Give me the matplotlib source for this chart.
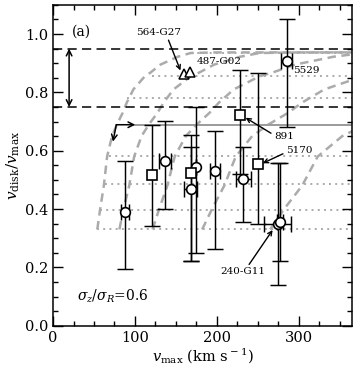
import matplotlib.pyplot as plt
from matplotlib.ticker import MultipleLocator

plt.rcParams['font.family'] = 'DejaVu Serif'
plt.rcParams['mathtext.fontset'] = 'dejavuserif'

# dashed grey model curves
curve_a_x = [54, 57.5, 62, 66, 72, 78, 85, 90, 98, 112, 119, 131, 152, 168, 200, 260, 365]
curve_a_y = [0.33, 0.40, 0.48, 0.58, 0.65, 0.69, 0.73, 0.765, 0.81, 0.855, 0.868, 0.895, 0.922, 0.935, 0.937, 0.937, 0.937]
curve_b_x = [81, 86, 93, 99, 108, 117, 127.5, 135, 147, 168, 178.5, 196.5, 228, 252, 300, 390]
curve_b_y = [0.33, 0.40, 0.48, 0.58, 0.65, 0.69, 0.73, 0.765, 0.81, 0.855, 0.868, 0.895, 0.922, 0.935, 0.937, 0.937]
curve_c_x = [121.5, 129.5, 139.5, 148.5, 162, 175.5, 191, 202.5, 220.5, 252, 268, 295, 342, 378]
curve_c_y = [0.33, 0.40, 0.48, 0.58, 0.65, 0.69, 0.73, 0.765, 0.81, 0.855, 0.868, 0.895, 0.922, 0.935]
curve_d_x = [182, 194, 209, 223, 243, 263, 287, 304, 331, 378]
curve_d_y = [0.33, 0.40, 0.48, 0.58, 0.65, 0.69, 0.73, 0.765, 0.81, 0.855]
curve_e_x = [265, 282, 304, 323, 353, 382]
curve_e_y = [0.33, 0.40, 0.48, 0.58, 0.65, 0.69]

# dotted grey levels and where they start
dot_levels = [0.331, 0.398, 0.485, 0.582, 0.78, 0.857, 0.935]
dot_start = [53.5, 57.6, 63.7, 67.8, 90, 121, 168]

# galaxies: circles
circ_v = [88, 136.4, 167.8, 175, 197.5, 232.3, 285, 274, 277.2]
circ_f = [0.389, 0.566, 0.468, 0.543, 0.532, 0.503, 0.906, 0.348, 0.357]
circ_lo = [0.193, 0.399, 0.222, 0.25, 0.263, 0.355, 0.681, 0.14, 0.222]
circ_hi = [0.563, 0.702, 0.654, 0.751, 0.668, 0.612, 1.051, 0.557, 0.559]
circ_verr = [5, 7.5, 8, 0, 6, 9, 7, 17, 4]

# galaxies: squares
sq_v = [120.8, 168.6, 227.8, 250.7]
sq_f = [0.517, 0.523, 0.723, 0.555]
sq_lo = [0.342, 0.222, 0.52, 0.348]
sq_hi = [0.689, 0.614, 0.877, 0.866]

# triangles (564-G27, 487-G02)
tri_v = [159.6, 166.6]
tri_f = [0.862, 0.869]

fig = plt.figure(figsize=(3.56, 3.75), dpi=100)
ax = fig.add_axes([0.149, 0.1315, 0.84, 0.8555])

grey = '#ababab'
for cx, cy in [(curve_a_x, curve_a_y), (curve_b_x, curve_b_y), (curve_c_x, curve_c_y),
               (curve_d_x, curve_d_y), (curve_e_x, curve_e_y)]:
    ax.plot(cx, cy, color=grey, lw=1.8, dashes=(3.4, 2.2), zorder=1)

for lev, x0 in zip(dot_levels, dot_start):
    ax.plot([x0, 370], [lev, lev], color=grey, lw=1.4, ls=(0, (1, 2.2)), zorder=1)

ax.plot([100.4, 370], [0.689, 0.689], color='#9a9a9a', lw=1.4, zorder=1)

for lev in [0.95, 0.75]:
    ax.axhline(lev, color='black', lw=1.1, dashes=(6, 3.5), zorder=2)

ax.annotate('', xy=(19.6, 0.95), xytext=(19.6, 0.75),
            arrowprops=dict(arrowstyle='<->', lw=1.1, color='black', shrinkA=0, shrinkB=0))
ax.annotate('', xy=(100.4, 0.689), xytext=(77.2, 0.689),
            arrowprops=dict(arrowstyle='->', lw=1.1, color='black', shrinkA=0, shrinkB=0))
ax.annotate('', xy=(73.1, 0.631), xytext=(77.2, 0.689),
            arrowprops=dict(arrowstyle='->', lw=1.1, color='black', shrinkA=0, shrinkB=0))

ebar = dict(fmt='none', ecolor='black', elinewidth=1.05, capsize=6, capthick=1.05, zorder=3)
ax.errorbar(circ_v, circ_f, yerr=[[f - lo for f, lo in zip(circ_f, circ_lo)],
                                  [hi - f for f, hi in zip(circ_f, circ_hi)]],
            xerr=circ_verr, **ebar)
ax.errorbar(sq_v, sq_f, yerr=[[f - lo for f, lo in zip(sq_f, sq_lo)],
                              [hi - f for f, hi in zip(sq_f, sq_hi)]], **ebar)
ax.plot(circ_v, circ_f, 'o', ms=7, mfc='white', mec='black', mew=1.2, zorder=4)
ax.plot(sq_v, sq_f, 's', ms=6.5, mfc='white', mec='black', mew=1.2, zorder=4)
ax.plot(tri_v, tri_f, '^', ms=7, mfc='white', mec='black', mew=1.1, zorder=4)

arr = dict(arrowstyle='->', lw=1.0, color='black', shrinkA=0, shrinkB=0)
ax.annotate('564-G27', xy=(155.5, 0.875), xytext=(128.6, 1.004), fontsize=7.5,
            ha='center', va='center', arrowprops=dict(arr, relpos=(0.7, 0.0)))
ax.text(175, 0.906, '487-G02', fontsize=7.5, ha='left', va='center')
ax.text(293, 0.875, '5529', fontsize=7.5, ha='left', va='center')
ax.annotate('891', xy=(235, 0.713), xytext=(269.4, 0.648), fontsize=7.5,
            ha='left', va='center', arrowprops=dict(arr, relpos=(0.0, 0.7)))
ax.annotate('5170', xy=(256, 0.557), xytext=(284, 0.600), fontsize=7.5,
            ha='left', va='center', arrowprops=dict(arr, relpos=(0.0, 0.3)))
ax.annotate('240-G11', xy=(268, 0.328), xytext=(231.5, 0.185), fontsize=7.5,
            ha='center', va='center', arrowprops=dict(arr, relpos=(0.6, 1.0)))

ax.text(35.1, 1.009, '(a)', fontsize=10, ha='center', va='center')
ax.text(29.4, 0.0995, r'$\sigma_z/\sigma_R$=0.6', fontsize=10, ha='left', va='center')

ax.set_xlim(0, 365)
ax.set_ylim(0, 1.1)
ax.xaxis.set_major_locator(MultipleLocator(100))
ax.xaxis.set_minor_locator(MultipleLocator(25))
ax.yaxis.set_major_locator(MultipleLocator(0.2))
ax.yaxis.set_minor_locator(MultipleLocator(0.05))
ax.yaxis.set_major_formatter(plt.FormatStrFormatter('%.1f'))
ax.tick_params(which='both', direction='in', top=True, right=True, labelsize=10.5, width=1.0)
ax.tick_params(which='major', length=7)
ax.tick_params(which='minor', length=3.5)
for s in ax.spines.values():
    s.set_linewidth(1.1)

ax.set_xlabel(r'$v_{\rm max}$ (km s$^{\rm -1}$)', fontsize=10.5, labelpad=2)
ax.set_ylabel(r'$v_{\rm disk}/v_{\rm max}$', fontsize=11, labelpad=2)

fig.savefig('out.png', dpi=100)
